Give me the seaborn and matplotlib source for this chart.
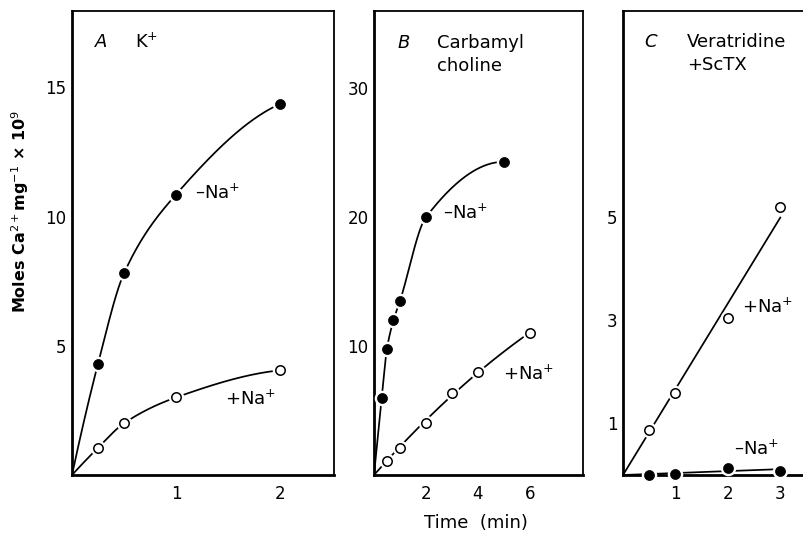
import numpy as np
import pandas as pd
import matplotlib
matplotlib.use("Agg")
import matplotlib.pyplot as plt
import seaborn as sns

# ---------------- data ----------------
# Panel A : K+
a_time = [0.25, 0.5, 1.0, 2.0]
a_minus_na = [4.3, 7.8, 10.85, 14.35]
a_plus_na = [1.05, 2.0, 3.0, 4.05]
# Panel B : Carbamyl choline
b_time_minus = [0.3, 0.5, 0.75, 1.0, 2.0, 5.0]
b_minus_na = [6.0, 9.8, 12.0, 13.5, 20.0, 24.3]
b_time_plus = [0.5, 1.0, 2.0, 3.0, 4.0, 6.0]
b_plus_na = [1.1, 2.1, 4.0, 6.4, 8.0, 11.0]
# Panel C : Veratridine + ScTX
c_time = [0.5, 1.0, 2.0, 3.0]
c_plus_na = [0.87, 1.6, 3.05, 5.2]
c_minus_na = [0.0, 0.02, 0.14, 0.08]

# ticks
a_xticks = [1, 2]
a_yticks = [5, 10, 15]
b_xticks = [1, 2, 3, 4, 5, 6]
b_xticklabels = ["", "2", "", "4", "", "6"]
b_yticks = [5, 10, 15, 20, 25, 30]
b_yticklabels = ["", "10", "", "20", "", "30"]
c_xticks = [1, 2, 3]
c_yticks = [1, 2, 3, 4, 5]
c_yticklabels = ["1", "", "3", "", "5"]

# ---------------- style ----------------
sns.set_theme(style="white")
plt.rcParams["font.family"] = ["DejaVu Sans"]
plt.rcParams["mathtext.fontset"] = "dejavusans"
plt.rcParams["text.color"] = "black"
plt.rcParams["axes.labelcolor"] = "black"
plt.rcParams["xtick.color"] = "black"
plt.rcParams["ytick.color"] = "black"

FS = 13


def pchip(x, y, xs):
    x = np.asarray(x, float)
    y = np.asarray(y, float)
    h = np.diff(x)
    d = np.diff(y) / h
    n = len(x)
    m = np.zeros(n)
    for k in range(1, n - 1):
        if d[k - 1] * d[k] <= 0:
            m[k] = 0.0
        else:
            w1 = 2 * h[k] + h[k - 1]
            w2 = h[k] + 2 * h[k - 1]
            m[k] = (w1 + w2) / (w1 / d[k - 1] + w2 / d[k])

    def end(h0, h1, d0, d1):
        v = ((2 * h0 + h1) * d0 - h0 * d1) / (h0 + h1)
        if np.sign(v) != np.sign(d0):
            v = 0.0
        elif np.sign(d0) != np.sign(d1) and abs(v) > 3 * abs(d0):
            v = 3 * d0
        return v

    m[0] = end(h[0], h[1], d[0], d[1])
    m[-1] = end(h[-1], h[-2], d[-1], d[-2])
    idx = np.clip(np.searchsorted(x, xs) - 1, 0, n - 2)
    t = (xs - x[idx]) / h[idx]
    h00 = 2 * t**3 - 3 * t**2 + 1
    h10 = t**3 - 2 * t**2 + t
    h01 = -2 * t**3 + 3 * t**2
    h11 = t**3 - t**2
    return (h00 * y[idx] + h10 * h[idx] * m[idx]
            + h01 * y[idx + 1] + h11 * h[idx] * m[idx + 1])


def smooth_curve(ax, xv, yv):
    xx = np.concatenate([[0.0], xv])
    yy = np.concatenate([[0.0], yv])
    xs = np.linspace(0, xx[-1], 300)
    ys = pchip(xx, yy, xs)
    sns.lineplot(x=xs, y=ys, ax=ax, color="black", lw=1.25,
                 estimator=None, sort=False, zorder=2)


def fit_line(ax, xv, yv, quad=False):
    xv = np.asarray(xv, float)
    yv = np.asarray(yv, float)
    if quad:
        A = np.vstack([xv, xv**2]).T
        coef = np.linalg.lstsq(A, yv, rcond=None)[0]
        xs = np.linspace(0, xv[-1], 200)
        ys = coef[0] * xs + coef[1] * xs**2
    else:
        s = np.sum(xv * yv) / np.sum(xv * xv)
        xs = np.linspace(0, xv[-1], 50)
        ys = s * xs
    sns.lineplot(x=xs, y=ys, ax=ax, color="black", lw=1.25,
                 estimator=None, sort=False, zorder=2)


def points(ax, xv, yv, filled):
    df = pd.DataFrame({"t": xv, "v": yv})
    # white halo to create gaps in the line around the markers
    sns.scatterplot(data=df, x="t", y="v", ax=ax, s=125, color="white",
                    linewidth=0, zorder=3, clip_on=False)
    if filled:
        sns.scatterplot(data=df, x="t", y="v", ax=ax, s=52, color="black",
                        edgecolor="black", linewidth=0.5, zorder=4,
                        clip_on=False)
    else:
        sns.scatterplot(data=df, x="t", y="v", ax=ax, s=46, color="white",
                        edgecolor="black", linewidth=1.1, zorder=4,
                        clip_on=False)


W, H = 804, 533
fig = plt.figure(figsize=(W / 100, H / 100), dpi=100)
fig.patch.set_facecolor("white")

top_px, bot_px = 11, 475


def make_ax(l, r):
    return fig.add_axes([l / W, 1 - bot_px / H, (r - l) / W,
                         (bot_px - top_px) / H])


axA = make_ax(72, 334)
axB = make_ax(374, 583)
axC = make_ax(623, 804)

# ---- Panel A
smooth_curve(axA, a_time, a_minus_na)
smooth_curve(axA, a_time, a_plus_na)
points(axA, a_time, a_minus_na, True)
points(axA, a_time, a_plus_na, False)
axA.set_xlim(0, 2.52)
axA.set_ylim(0, 17.95)
axA.set_xticks(a_xticks)
axA.set_xticklabels([str(v) for v in a_xticks])
axA.set_yticks(a_yticks)
axA.set_yticklabels([str(v) for v in a_yticks])
axA.text(0.22, 16.75, "A", style="italic", fontsize=FS, va="center")
axA.text(0.61, 16.75, r"K$^{+}$", fontsize=FS, va="center")
axA.text(1.18, 10.9, "–Na$^{+}$", fontsize=FS, va="center")
axA.text(1.47, 2.95, "+Na$^{+}$", fontsize=FS, va="center")

# ---- Panel B
smooth_curve(axB, b_time_minus, b_minus_na)
fit_line(axB, b_time_plus, b_plus_na, quad=True)
points(axB, b_time_minus, b_minus_na, True)
points(axB, b_time_plus, b_plus_na, False)
axB.set_xlim(0, 8.05)
axB.set_ylim(0, 36.0)
axB.set_xticks(b_xticks)
axB.set_xticklabels(b_xticklabels)
axB.set_yticks(b_yticks)
axB.set_yticklabels(b_yticklabels)
axB.text(0.92, 33.55, "B", style="italic", fontsize=FS, va="center")
axB.text(2.42, 33.55, "Carbamyl", fontsize=FS, va="center")
axB.text(2.42, 31.75, "choline", fontsize=FS, va="center")
axB.text(2.65, 20.3, "–Na$^{+}$", fontsize=FS, va="center")
axB.text(4.95, 7.8, "+Na$^{+}$", fontsize=FS, va="center")

# ---- Panel C
fit_line(axC, c_time, c_plus_na)
fit_line(axC, c_time, c_minus_na)
points(axC, c_time, c_plus_na, False)
points(axC, c_time, c_minus_na, True)
axC.set_xlim(0, 3.45)
axC.set_ylim(0, 9.0)
axC.set_xticks(c_xticks)
axC.set_xticklabels([str(v) for v in c_xticks])
axC.set_yticks(c_yticks)
axC.set_yticklabels(c_yticklabels)
axC.text(0.40, 8.39, "C", style="italic", fontsize=FS, va="center")
axC.text(1.22, 8.39, "Veratridine", fontsize=FS, va="center")
axC.text(1.22, 7.95, "+ScTX", fontsize=FS, va="center")
axC.text(2.27, 3.25, "+Na$^{+}$", fontsize=FS, va="center")
axC.text(2.12, 0.5, "–Na$^{+}$", fontsize=FS, va="center")

for ax in (axA, axB, axC):
    ax.set_facecolor("white")
    for s in ("left", "bottom"):
        ax.spines[s].set_linewidth(2.0)
    for s in ("top", "right"):
        ax.spines[s].set_linewidth(1.3)
    for s in ax.spines.values():
        s.set_color("black")
    ax.tick_params(direction="in", length=8.5, width=1.6, colors="black",
                   labelsize=12, top=False, right=False)
    ax.tick_params(axis="x", pad=7)
    ax.tick_params(axis="y", pad=4)
    ax.set_xlabel("")
    ax.set_ylabel("")

axC.spines["right"].set_visible(False)

# ---- shared labels
fig.text(20 / W, 1 - 212 / H, r"Moles Ca$^{2+}$mg$^{-1}$ × 10$^{9}$",
         rotation=90, ha="center", va="center", fontsize=11.5,
         fontweight="bold")
fig.text(476 / W, 1 - 523 / H, "Time  (min)", ha="center", va="center",
         fontsize=13)

fig.savefig("out.png", dpi=100, facecolor="white")
